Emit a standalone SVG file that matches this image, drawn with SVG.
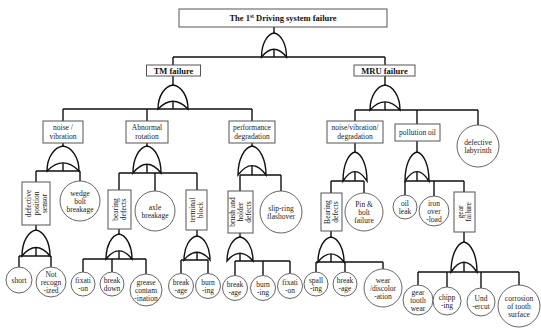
<svg xmlns="http://www.w3.org/2000/svg" xmlns:xlink="http://www.w3.org/1999/xlink" width="541" height="333" viewBox="0 0 541 333">
<style>
.box{fill:#fff;stroke:#555;stroke-width:1}
.ev{fill:#fff;stroke:#555;stroke-width:0.9}
.gp{fill:#fff;stroke:#111;stroke-width:1.4;vector-effect:non-scaling-stroke}
.con{stroke:#111;stroke-width:1.4;fill:none}
text{font-family:"Liberation Serif","Times New Roman",serif;font-size:7.5px;fill:#222;text-anchor:middle}
.b{font-weight:bold;font-size:8.5px;fill:#111}
</style>
<defs>
<path id="or" class="gp" d="M0,0 C0.55,0.05 1,0.45 1,1 Q0,0.35 -1,1 C-1,0.45 -0.55,0.05 0,0 Z"/>
</defs>
<rect width="541" height="333" fill="#fff"/>
<g id="connectors" class="con">
<path d="M274,27V33M274,49V57M173,57H385M173,57V65M385,57V65"/>
<path d="M173,76V85M173,101V109M63,109H252M63,109V121M147,109V121M252,109V121"/>
<path d="M385,76V85M385,102V110M355,110H478M355,110V121M417,110V124M478,110V125"/>
<path d="M63,143V146M63,163V171M36,171H80M36,171V182M80,171V181"/>
<path d="M147,143V146M147,164V173M119,173H197M119,173V190M155,173V191M197,173V190"/>
<path d="M252,143V146M252,166V175M240,175H281M240,175V191M281,175V191"/>
<path d="M355,143V152M355,172V181M331,181H364M331,181V193M364,181V193"/>
<path d="M417,141V152M417,172V181M405,181H464M405,181V195M434,181V196M464,181V192"/>
<path d="M36,225V230M36,248V256M19,256H51M19,256V267M51,256V267"/>
<path d="M119,229V234M119,251V259M83,259H146M83,259V272M112,259V272M146,259V274"/>
<path d="M197,230V236M197,252V260M181,260H208M181,260V273.5M208,260V273.5"/>
<path d="M240,233V237M240,253V261M235,261H290M235,261V275.5M263,261V275.5M290,261V273.5"/>
<path d="M331,231V237M331,254V262M316,262H383M316,262V272M345,262V272M383,262V269"/>
<path d="M464,232V242M464,262V272M418,272H519M418,272V285M447,272V287M481,272V288M519,272V285"/>
</g>
<g id="gates">
<g id="g-top"><use xlink:href="#or" transform="translate(274,33) scale(12.5,24)"/></g>
<g id="g-tm"><use xlink:href="#or" transform="translate(173,85) scale(15,24)"/></g>
<g id="g-mru"><use xlink:href="#or" transform="translate(385,85) scale(15,25)"/></g>
<g id="g-nv"><use xlink:href="#or" transform="translate(63,146) scale(16,25)"/></g>
<g id="g-ar"><use xlink:href="#or" transform="translate(147,146) scale(14,27)"/></g>
<g id="g-pd"><use xlink:href="#or" transform="translate(252,146) scale(14,29)"/></g>
<g id="g-nvd"><use xlink:href="#or" transform="translate(355,152) scale(12,29)"/></g>
<g id="g-po"><use xlink:href="#or" transform="translate(417,152) scale(12,29)"/></g>
<g id="g-dps"><use xlink:href="#or" transform="translate(36,230) scale(14,26)"/></g>
<g id="g-bd"><use xlink:href="#or" transform="translate(119,234) scale(13,25)"/></g>
<g id="g-tb"><use xlink:href="#or" transform="translate(197,236) scale(13,24)"/></g>
<g id="g-bh"><use xlink:href="#or" transform="translate(240,237) scale(13,24)"/></g>
<g id="g-mb"><use xlink:href="#or" transform="translate(331,237) scale(13,25)"/></g>
<g id="g-gf"><use xlink:href="#or" transform="translate(464,242) scale(13,30)"/></g>
</g>
<g id="n-top"><rect class="box" x="179" y="9" width="208" height="18"/><text class="b" x="283" y="21">The 1<tspan dy="-3" font-size="5.5">st</tspan><tspan dy="3"> Driving system failure</tspan></text></g>
<g id="n-tm"><rect class="box" x="146.5" y="65" width="54" height="11"/><text class="b" x="173.5" y="73.5">TM failure</text></g>
<g id="n-mru"><rect class="box" x="354" y="65" width="61" height="11"/><text class="b" x="384.5" y="73.5">MRU failure</text></g>
<g id="n-nv"><rect class="box" x="43" y="121" width="40" height="22"/><text x="63" y="129.5">noise /</text><text x="63" y="138.5">vibration</text></g>
<g id="n-ar"><rect class="box" x="126" y="121" width="42" height="22"/><text x="147" y="129.5">Abnormal</text><text x="147" y="138.5">rotation</text></g>
<g id="n-pd"><rect class="box" x="229" y="121" width="46" height="22"/><text x="252" y="129.5">performance</text><text x="252" y="138.5">degradation</text></g>
<g id="n-nvd"><rect class="box" x="327" y="121" width="56" height="22"/><text x="355" y="129.5">noise/vibration/</text><text x="355" y="138.5">degradation</text></g>
<g id="n-po"><rect class="box" x="395" y="124" width="45" height="17"/><text x="417.5" y="135">pollution oil</text></g>
<g id="n-lab"><circle class="ev" cx="478" cy="146" r="21"/><text x="478" y="144.5">defective</text><text x="478" y="152.5">labyrinth</text></g>
<g id="n-dps"><rect class="box" x="22" y="182" width="28" height="43"/><text transform="translate(36,203.5) rotate(-90)"><tspan x="0" y="-5.4">defective</tspan><tspan x="0" y="2.6">position</tspan><tspan x="0" y="10.6">sensor</tspan></text></g>
<g id="n-wedge"><circle class="ev" cx="80" cy="201" r="20"/><text x="80" y="195.5">wedge</text><text x="80" y="203.5">bolt</text><text x="80" y="211.5">breakage</text></g>
<g id="n-bd"><rect class="box" x="108" y="190" width="23" height="39"/><text transform="translate(119.5,209.5) rotate(-90)"><tspan x="0" y="-1.4">bearing</tspan><tspan x="0" y="6.6">defects</tspan></text></g>
<g id="n-axle"><circle class="ev" cx="155" cy="211" r="20"/><text x="155" y="209.5">axle</text><text x="155" y="217.5">breakage</text></g>
<g id="n-tb"><rect class="box" x="186" y="190" width="21" height="40"/><text transform="translate(196.5,210) rotate(-90)"><tspan x="0" y="-1.4">terminal</tspan><tspan x="0" y="6.6">block</tspan></text></g>
<g id="n-bh"><rect class="box" x="228" y="191" width="25" height="42"/><text transform="translate(240.5,212) rotate(-90)"><tspan x="0" y="-5.4">brush and</tspan><tspan x="0" y="2.6">holder</tspan><tspan x="0" y="10.6">defects</tspan></text></g>
<g id="n-slip"><circle class="ev" cx="281" cy="212" r="21"/><text x="281" y="210.5">slip-ring</text><text x="281" y="218.5">flashover</text></g>
<g id="n-mb"><rect class="box" x="321" y="193" width="21" height="38"/><text transform="translate(331.5,212) rotate(-90)"><tspan x="0" y="-1.4">Bearing</tspan><tspan x="0" y="6.6">defects</tspan></text></g>
<g id="n-pin"><circle class="ev" cx="364" cy="212" r="19"/><text x="364" y="206.5">Pin &amp;</text><text x="364" y="214.5">bolt</text><text x="364" y="222.5">failure</text></g>
<g id="n-oil"><circle class="ev" cx="405" cy="207" r="12"/><text x="405" y="205.5">oil</text><text x="405" y="213.5">leak</text></g>
<g id="n-iron"><circle class="ev" cx="434" cy="211" r="15"/><text x="434" y="205.5">iron</text><text x="434" y="213.5">over</text><text x="434" y="221.5">-load</text></g>
<g id="n-gf"><rect class="box" x="454" y="192" width="21" height="40"/><text transform="translate(464.5,212) rotate(-90)"><tspan x="0" y="-1.4">gear</tspan><tspan x="0" y="6.6">failure</tspan></text></g>
<g id="n-short"><circle class="ev" cx="19" cy="280" r="13"/><text x="19" y="282.5">short</text></g>
<g id="n-notrec"><circle class="ev" cx="51" cy="282" r="15"/><text x="51" y="276.5">Not</text><text x="51" y="284.5">recogn</text><text x="51" y="292.5">-ized</text></g>
<g id="n-fix1"><circle class="ev" cx="83" cy="284" r="12"/><text x="83" y="282.5">fixati</text><text x="83" y="290.5">-on</text></g>
<g id="n-bdown"><circle class="ev" cx="112" cy="284" r="12"/><text x="112" y="282.5">break</text><text x="112" y="290.5">down</text></g>
<g id="n-grease"><circle class="ev" cx="146" cy="290" r="16"/><text x="146" y="284.5">grease</text><text x="146" y="292.5">contam</text><text x="146" y="300.5">-ination</text></g>
<g id="n-brk1"><circle class="ev" cx="181" cy="286" r="12.5"/><text x="181" y="284.5">break</text><text x="181" y="292.5">-age</text></g>
<g id="n-burn1"><circle class="ev" cx="208" cy="286" r="12.5"/><text x="208" y="284.5">burn</text><text x="208" y="292.5">-ing</text></g>
<g id="n-brk2"><circle class="ev" cx="235" cy="288" r="12.5"/><text x="235" y="286.5">break</text><text x="235" y="294.5">-age</text></g>
<g id="n-burn2"><circle class="ev" cx="263" cy="288" r="12.5"/><text x="263" y="286.5">burn</text><text x="263" y="294.5">-ing</text></g>
<g id="n-fix2"><circle class="ev" cx="290" cy="286" r="12.5"/><text x="290" y="284.5">fixati</text><text x="290" y="292.5">-on</text></g>
<g id="n-spall"><circle class="ev" cx="316" cy="284" r="12"/><text x="316" y="282.5">spall</text><text x="316" y="290.5">-ing</text></g>
<g id="n-brk3"><circle class="ev" cx="345" cy="284" r="12"/><text x="345" y="282.5">break</text><text x="345" y="290.5">-age</text></g>
<g id="n-wear"><circle class="ev" cx="383" cy="288" r="19"/><text x="383" y="282.5">wear</text><text x="383" y="290.5">/discolor</text><text x="383" y="298.5">-ation</text></g>
<g id="n-gtw"><circle class="ev" cx="418" cy="300" r="15"/><text x="418" y="294.5">gear</text><text x="418" y="302.5">tooth</text><text x="418" y="310.5">wear</text></g>
<g id="n-chip"><circle class="ev" cx="447" cy="301" r="14"/><text x="447" y="299.5">chipp</text><text x="447" y="307.5">-ing</text></g>
<g id="n-und"><circle class="ev" cx="481" cy="302" r="14"/><text x="481" y="300.5">Und</text><text x="481" y="308.5">-ercut</text></g>
<g id="n-corr"><circle class="ev" cx="519" cy="306" r="21"/><text x="519" y="300.5">corrosion</text><text x="519" y="308.5">of tooth</text><text x="519" y="316.5">surface</text></g>
</svg>
